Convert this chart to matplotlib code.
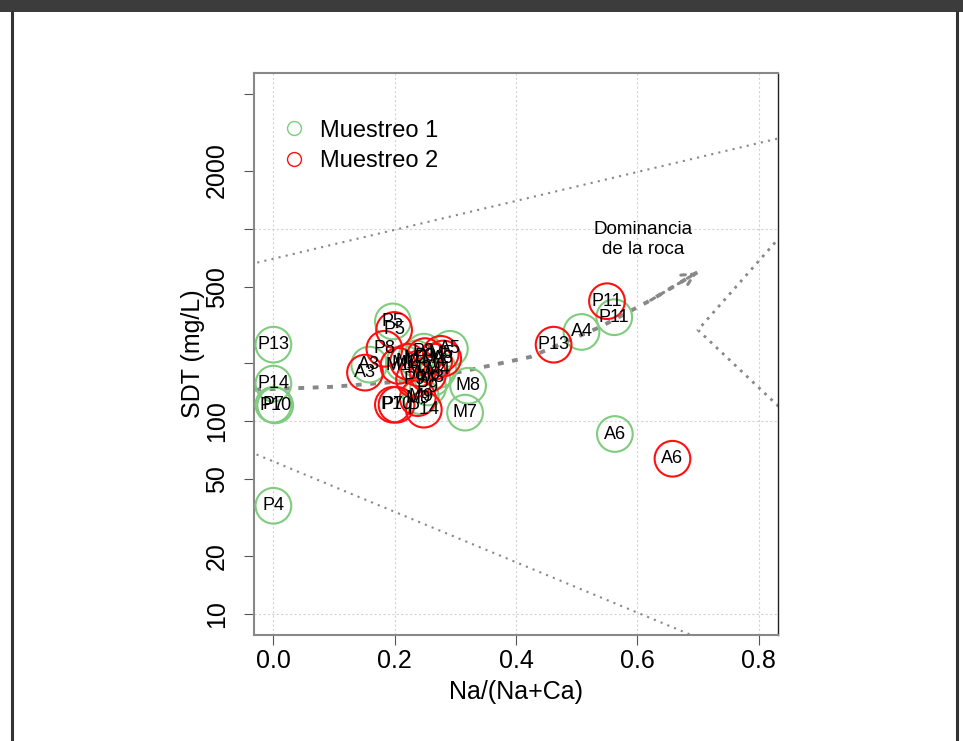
import numpy as np
import matplotlib
matplotlib.use("Agg")
import matplotlib.pyplot as plt
from matplotlib.patches import Rectangle
from matplotlib.lines import Line2D

plt.rcParams['font.family'] = ['Liberation Sans', 'DejaVu Sans']

# ---------------- data ----------------
m1_labels = ["P13", "P14", "P7", "P10", "P4", "P5", "A3", "P8", "A5", "M8", "M7",
             "A4", "P11", "A6", "M9", "M1", "M2", "M3", "M4", "P9"]
m1_x = [0.0, 0.0, 0.0, 0.003, 0.0, 0.197, 0.158, 0.248, 0.291, 0.321, 0.316,
        0.508, 0.562, 0.563, 0.243, 0.215, 0.235, 0.262, 0.272, 0.255]
m1_y = [250, 157, 122, 121, 36.5, 330, 197, 230, 238, 153, 111,
        291, 347, 86, 135, 200, 212, 168, 185, 150]

m2_labels = ["P5", "P8", "A3", "M1", "M2", "M3", "M4", "M5", "M6", "P9", "P3",
             "P7", "P10", "P14", "M9", "P13", "P11", "A6", "A8"]
m2_x = [0.199, 0.183, 0.151, 0.206, 0.222, 0.240, 0.265, 0.276, 0.255, 0.232, 0.250,
        0.197, 0.203, 0.248, 0.238, 0.462, 0.550, 0.658, 0.280]
m2_y = [298, 238, 179, 194, 204, 188, 204, 224, 175, 165, 218,
        122, 122, 115, 132, 250, 420, 64, 212]

# Gibbs boundary lines and rock-dominance curve
upper_x = [-0.05, 1.0]
upper_y = [640, 3920]
lower_x = [-0.05, 1.0]
lower_y = [72, 3.06]
right_x = [1.0, 0.70, 1.0]
right_y = [3500, 298, 38]
rock_x = [-0.03, 0.095, 0.21, 0.31, 0.424, 0.539, 0.622, 0.699]
rock_y = [146, 151, 161, 181, 216, 309, 425, 593]

x_ticks = [0.0, 0.2, 0.4, 0.6, 0.8]
y_ticks = [10, 20, 50, 100, 200, 500, 1000, 2000, 5000]
y_ticklabels = ["10", "20", "50", "100", "", "500", "", "2000", ""]

green = "#7FCC7F"
red = "#FF1010"
gray = "#888888"

# ---------------- figure ----------------
fig = plt.figure(figsize=(9.63, 7.41), dpi=100)
fig.patch.set_facecolor("white")
fig.patches.append(Rectangle((0, 1 - 12 / 741), 1, 12 / 741, transform=fig.transFigure,
                             facecolor="#3c3c3c", edgecolor="none", zorder=0))
fig.add_artist(Line2D([12 / 963, 12 / 963], [0, 1 - 12 / 741], transform=fig.transFigure,
                      color="#333333", lw=2.2))
fig.add_artist(Line2D([957 / 963, 957 / 963], [0, 1 - 12 / 741], transform=fig.transFigure,
                      color="#333333", lw=2.2))

ax = fig.add_axes([254 / 963, 1 - 635 / 741, (778 - 254) / 963, (635 - 73) / 741])
ax.set_yscale("log")
ax.set_xlim(-0.032, 0.832)
ax.set_ylim(10 ** 0.892, 10 ** 3.807)

# grid
for xv in x_ticks:
    ax.axvline(xv, color="#d3d3d3", lw=0.8, ls=(0, (2, 2)), zorder=0)
for yv in [10, 100, 1000]:
    ax.axhline(yv, color="#d3d3d3", lw=0.8, ls=(0, (2, 2)), zorder=0)

# boundaries
ax.plot(upper_x, upper_y, color=gray, lw=1.5, ls=(0, (1, 2.5)), zorder=1)
ax.plot(lower_x, lower_y, color=gray, lw=1.5, ls=(0, (1, 2.5)), zorder=1)
ax.plot(right_x, right_y, color=gray, lw=2.0, ls=(0, (1, 2)), zorder=1)
ax.plot(rock_x, rock_y, color=gray, lw=2.8, ls=(0, (1.5, 2.2)), zorder=1)
ax.annotate("", xy=(rock_x[-1], rock_y[-1]), xytext=(rock_x[-2], rock_y[-2]),
            arrowprops=dict(arrowstyle="->", color=gray, lw=2.2, ls=(0, (1.5, 2)),
                            mutation_scale=22, shrinkA=0, shrinkB=0), zorder=1)
ax.text(0.609, 880, "Dominancia\nde la roca", ha="center", va="center",
        fontsize=13.5, linespacing=1.2)

# points
ax.scatter(m1_x, m1_y, s=660, facecolors="none", edgecolors=green, linewidths=1.5,
           zorder=3, clip_on=False)
ax.scatter(m2_x, m2_y, s=660, facecolors="none", edgecolors=red, linewidths=1.5,
           zorder=4, clip_on=False)
for lab, xv, yv in zip(m1_labels, m1_x, m1_y):
    ax.text(xv, yv, lab, ha="center", va="center", fontsize=13, zorder=5)
for lab, xv, yv in zip(m2_labels, m2_x, m2_y):
    ax.text(xv, yv, lab, ha="center", va="center", fontsize=13, zorder=5)

# legend
leg_handles = [Line2D([], [], marker="o", ls="none", mfc="none", mec=green, ms=10, mew=1.0),
               Line2D([], [], marker="o", ls="none", mfc="none", mec=red, ms=10, mew=1.0)]
ax.legend(leg_handles, ["Muestreo 1", "Muestreo 2"], loc="upper left",
          bbox_to_anchor=(0.0, 0.955), frameon=False, fontsize=17,
          handletextpad=0.3, labelspacing=0.35, handlelength=1.6)

# axes styling
ax.set_xticks(x_ticks)
ax.set_xticklabels(["0.0", "0.2", "0.4", "0.6", "0.8"])
ax.set_yticks(y_ticks)
ax.set_yticklabels(y_ticklabels, rotation=90, va="center")
ax.yaxis.set_minor_locator(matplotlib.ticker.NullLocator())
ax.tick_params(axis="both", labelsize=18, length=7, color="#555555")
ax.tick_params(axis="x", pad=3)
ax.tick_params(axis="y", pad=11)
ax.set_xlabel("Na/(Na+Ca)", fontsize=18, labelpad=5)
ax.set_ylabel("SDT (mg/L)", fontsize=18)
ax.yaxis.set_label_coords(-0.093, 0.5)
for side in ["top", "left", "bottom"]:
    ax.spines[side].set_color("#888888")
    ax.spines[side].set_linewidth(1.5)
ax.spines["right"].set_color("#222222")
ax.spines["right"].set_linewidth(1.0)

fig.savefig("out.png", dpi=100)
